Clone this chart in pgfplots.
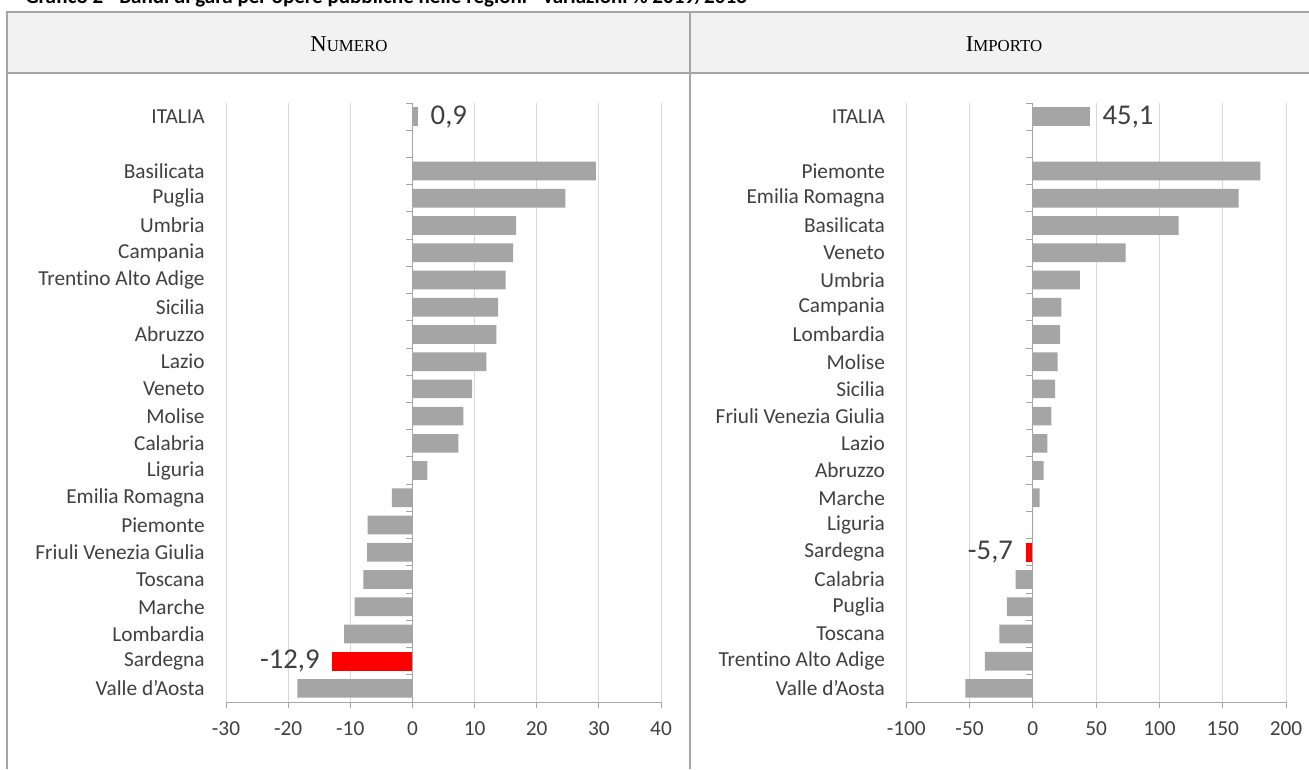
\documentclass[border=0pt]{standalone}
\usepackage{pgfplots}
\pgfplotsset{compat=1.18}
\usepackage{fontspec}
\setmainfont{Carlito}[Ligatures=NoCommon]
\newfontfamily\timesf{Liberation Serif}
\definecolor{bargray}{HTML}{A5A5A5}
\definecolor{barred}{HTML}{FF0000}
\definecolor{gridc}{HTML}{D9D9D9}
\definecolor{axisc}{HTML}{A6A6A6}
\definecolor{framec}{HTML}{A6A6A6}
\definecolor{headfill}{HTML}{F2F2F2}
\definecolor{txt}{HTML}{404040}

\pgfplotsset{
  panel/.style={
    scale only axis, height=449.25pt,
    xbar, bar width=14pt,
    ymin=-0.5, ymax=21.5,
    axis x line*=bottom, axis y line*=left,
    y axis line style={draw=none},
    x axis line style={draw=axisc, line width=0.75pt},
    ytick={0,...,19,21},
    ytick style={draw=none},
    xtick style={draw=axisc, line width=0.75pt},
    tick align=outside, major tick length=4.5pt,
    xmajorgrids, grid style={draw=gridc, line width=0.75pt},
    tick label style={font=\fontsize{16}{18}\selectfont, text=txt},
    yticklabel style={xshift=-8pt},
    xticklabel style={yshift=-7pt},
    clip=false,
  },
  gbar/.style={fill=bargray, draw=none, bar shift=0pt},
  rbar/.style={fill=barred, draw=none, bar shift=0pt},
  vlab/.style={nodes near coords, point meta=explicit symbolic,
    every node near coord/.append style={font=\fontsize{21.5}{24}\selectfont, text=txt, anchor=#1}},
}

\begin{document}
\begin{tikzpicture}
\begin{scope}[x=0.75pt,y=-0.75pt]
\path[use as bounding box] (0,0) rectangle (1309,769);
\clip (0,0) rectangle (1309,769);
% title (cut at the top)
\node[anchor=base west, inner sep=0pt, font=\bfseries\fontsize{15.8}{18}\selectfont] at (25,3)
  {Grafico 2 - Bandi di gara per opere pubbliche nelle regioni - variazioni \% 2019/2018};
% header
\fill[headfill] (7,12) rectangle (1309,73);
\draw[framec, line width=1.5pt] (7,769) -- (7,12) -- (1309,12);
\draw[framec, line width=1.5pt] (7,73) -- (1309,73);
\draw[framec, line width=1.5pt] (690,12) -- (690,769);
\node[font=\timesf, anchor=base] at (349,51.5) {{\fontsize{17}{19}\selectfont N}{\fontsize{12.6}{14}\selectfont UMERO}};
\node[font=\timesf, anchor=base] at (1004,51.5) {{\fontsize{17}{19}\selectfont I}{\fontsize{12.6}{14}\selectfont MPORTO}};
\end{scope}

% ---------------- Numero ----------------
\begin{axis}[panel, at={(169.5pt,-526.5pt)}, anchor=south west, width=326.25pt,
  xmin=-30, xmax=40, xtick={-30,-20,...,40},
  xticklabels={-30,-20,-10,0,10,20,30,40},
  yticklabels={Valle d'Aosta,Sardegna,Lombardia,Marche,Toscana,Friuli Venezia Giulia,Piemonte,Emilia Romagna,Liguria,Calabria,Molise,Veneto,Lazio,Abruzzo,Sicilia,Trentino Alto Adige,Campania,Umbria,Puglia,Basilicata,ITALIA}]
\addplot[gbar] coordinates {
 (-18.5,0) (-11.0,2) (-9.3,3) (-7.9,4) (-7.3,5) (-7.2,6) (-3.3,7)
 (2.4,8) (7.4,9) (8.2,10) (9.6,11) (11.9,12) (13.5,13) (13.8,14)
 (15.0,15) (16.2,16) (16.7,17) (24.6,18) (29.5,19)};
\addplot[gbar, vlab={west}, every node near coord/.append style={xshift=6pt}] coordinates {(0.9,21) [{0,9}]};
\addplot[rbar, vlab={east}, every node near coord/.append style={xshift=-6pt}] coordinates {(-12.9,1) [{-12,9}]};
\draw[axisc, line width=0.75pt] (axis cs:0,-0.5) -- (axis cs:0,21.5);
\pgfplotsinvokeforeach{-0.5,0.5,...,21.5}{\draw[axisc, line width=0.75pt] (axis cs:0,#1) -- ++(-5pt,0pt);}
\end{axis}

% ---------------- Importo ----------------
\begin{axis}[panel, at={(679.7pt,-526.5pt)}, anchor=south west, width=284.85pt,
  xmin=-100, xmax=200, xtick={-100,-50,...,200},
  xticklabels={-100,-50,0,50,100,150,200},
  yticklabels={Valle d'Aosta,Trentino Alto Adige,Toscana,Puglia,Calabria,Sardegna,Liguria,Marche,Abruzzo,Lazio,Friuli Venezia Giulia,Sicilia,Molise,Lombardia,Campania,Umbria,Veneto,Basilicata,Emilia Romagna,Piemonte,ITALIA}]
\addplot[gbar] coordinates {
 (-53.3,0) (-38.0,1) (-26.5,2) (-20.6,3) (-13.7,4) (0.2,6)
 (5.3,7) (8.4,8) (11.5,9) (14.7,10) (17.5,11) (19.6,12) (21.5,13)
 (22.5,14) (37.1,15) (73.3,16) (115.1,17) (162.5,18) (179.6,19)};
\addplot[gbar, vlab={west}, every node near coord/.append style={xshift=6pt}] coordinates {(45.1,21) [{45,1}]};
\addplot[rbar, vlab={east}, every node near coord/.append style={xshift=-6pt}] coordinates {(-5.7,5) [{-5,7}]};
\draw[axisc, line width=0.75pt] (axis cs:0,-0.5) -- (axis cs:0,21.5);
\pgfplotsinvokeforeach{-0.5,0.5,...,21.5}{\draw[axisc, line width=0.75pt] (axis cs:0,#1) -- ++(-5pt,0pt);}
\end{axis}
\end{tikzpicture}
\end{document}
